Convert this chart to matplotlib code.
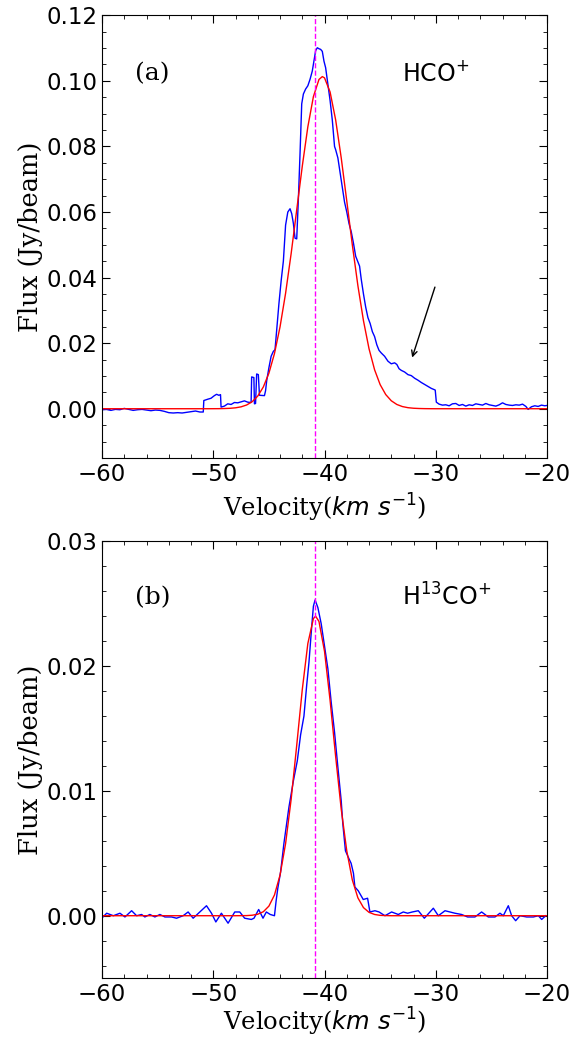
import matplotlib
matplotlib.use('Agg')
import matplotlib.pyplot as plt
from matplotlib.ticker import AutoMinorLocator

# panel (a): HCO+ spectrum (blue) and gaussian fit (red)
vel_a = [-60.0, -59.6, -59.2, -58.8, -58.4, -58.0, -57.6, -57.2, -56.8, -56.4, -56.0, -55.6, -55.2, -54.8,
         -54.4, -54.0, -53.6, -53.2, -52.8, -52.4, -52.0, -51.6, -51.2, -50.9, -50.85, -50.5, -50.2, -49.9,
         -49.7, -49.5, -49.35, -49.3, -49.0, -48.7, -48.4, -48.1, -47.8, -47.5, -47.2, -46.9, -46.6, -46.55,
         -46.35, -46.3, -46.2, -46.1, -45.95, -45.85, -45.4, -45.3, -45.2, -45.0, -44.8, -44.6, -44.45,
         -44.3, -44.1, -43.9, -43.7, -43.5, -43.3, -43.1, -42.95, -42.8, -42.65, -42.5, -42.35, -42.2,
         -42.05, -41.9, -41.7, -41.5, -41.3, -41.1, -40.95, -40.8, -40.65, -40.5, -40.35, -40.2, -40.05,
         -39.9, -39.7, -39.5, -39.3, -39.1, -39.0, -38.8, -38.6, -38.4, -38.2, -38.0, -37.8, -37.6, -37.4,
         -37.2, -37.0, -36.85, -36.7, -36.5, -36.3, -36.1, -35.9, -35.7, -35.5, -35.3, -35.1, -34.9, -34.6,
         -34.3, -34.0, -33.7, -33.5, -33.3, -33.1, -32.8, -32.5, -32.2, -31.9, -31.6, -31.3, -31.0, -30.7,
         -30.4, -30.05, -29.95, -29.7, -29.4, -29.1, -28.8, -28.5, -28.2, -27.9, -27.6, -27.3, -27.0, -26.7,
         -26.4, -26.1, -25.8, -25.5, -25.2, -24.9, -24.6, -24.3, -24.0, -23.7, -23.4, -23.1, -22.8, -22.5,
         -22.2, -21.9, -21.7, -21.4, -21.1, -20.8, -20.5, -20.2, -20.0]
flux_a = [-0.0003, -0.0002, -0.0005, -0.0002, -0.0003, 0.0001, -0.0002, -0.0005, -0.0003, -0.0002, -0.0004,
          -0.0006, -0.0004, -0.0005, -0.0008, -0.0012, -0.0013, -0.0012, -0.0013, -0.0011, -0.0009, -0.0007,
          -0.0010, -0.0010, 0.0025, 0.0029, 0.0032, 0.0040, 0.0044, 0.0041, 0.0043, 0.0005, 0.0008, 0.0015,
          0.0013, 0.0019, 0.0018, 0.0021, 0.0024, 0.0020, 0.0019, 0.0097, 0.0095, 0.0015, 0.0016, 0.0106,
          0.0104, 0.0041, 0.0040, 0.0055, 0.0085, 0.0125, 0.0160, 0.0175, 0.0180, 0.0240, 0.0320, 0.0390,
          0.0450, 0.0560, 0.0600, 0.0610, 0.0595, 0.0565, 0.0520, 0.0518, 0.0640, 0.0780, 0.0930, 0.0960,
          0.0975, 0.0985, 0.1005, 0.1030, 0.1060, 0.1092, 0.1101, 0.1098, 0.1096, 0.1090, 0.1060, 0.1040,
          0.0990, 0.0940, 0.0880, 0.0800, 0.0790, 0.0765, 0.0720, 0.0675, 0.0630, 0.0600, 0.0565, 0.0540,
          0.0505, 0.0465, 0.0448, 0.0435, 0.0395, 0.0350, 0.0310, 0.0278, 0.0260, 0.0235, 0.0220, 0.0195,
          0.0178, 0.0170, 0.0160, 0.0145, 0.0137, 0.0140, 0.0135, 0.0122, 0.0117, 0.0112, 0.0104, 0.0101,
          0.0093, 0.0087, 0.0080, 0.0074, 0.0068, 0.0062, 0.0057, 0.0020, 0.0014, 0.0011, 0.0012, 0.0009,
          0.0015, 0.0016, 0.0010, 0.0013, 0.0008, 0.0012, 0.0010, 0.0015, 0.0013, 0.0011, 0.0016, 0.0012,
          0.0010, 0.0008, 0.0012, 0.0018, 0.0013, 0.0011, 0.0010, 0.0012, 0.0011, 0.0014, 0.0007, -0.0002,
          0.0006, 0.0009, 0.0007, 0.0011, 0.0009, 0.0010]

fit_vel_a = [-60.0, -52.0, -51.0, -50.5, -50.0, -49.5, -49.0, -48.5, -48.0, -47.5, -47.0, -46.5, -46.0, -45.5,
             -45.0, -44.5, -44.0, -43.5, -43.0, -42.5, -42.0, -41.5, -41.0, -40.5, -40.2, -40.0, -39.5,
             -39.0, -38.5, -38.0, -37.5, -37.0, -36.5, -36.0, -35.5, -35.0, -34.5, -34.0, -33.5, -33.0,
             -32.5, -32.0, -31.5, -31.0, -30.5, -30.0, -29.0, -20.0]
fit_flux_a = [0.0, 0.0, 0.0, 0.0, 0.00001, 0.00002, 0.00006, 0.00013, 0.00028, 0.00058, 0.00114, 0.00215,
              0.00387, 0.00664, 0.01083, 0.01684, 0.02495, 0.03522, 0.04734, 0.06063, 0.07397, 0.08598,
              0.09520, 0.10042, 0.10130, 0.10091, 0.09660, 0.08809, 0.07653, 0.06334, 0.04994, 0.03751,
              0.02684, 0.01829, 0.01188, 0.00735, 0.00433, 0.00243, 0.00130, 0.00066, 0.00032, 0.00015,
              0.00007, 0.00003, 0.00001, 0.0, 0.0, 0.0]

# panel (b): H13CO+ spectrum and gaussian fit
vel_b = [-60.03, -59.58, -58.98, -58.39, -57.94, -57.34, -56.89, -56.44, -56.15, -55.7, -55.25, -54.8,
         -54.35, -53.75, -53.3, -52.71, -52.26, -51.81, -51.21, -50.61, -50.16, -49.77, -49.27, -48.67,
         -48.07, -47.62, -47.18, -46.58, -46.34, -45.92, -45.53, -45.23, -44.88, -44.5, -44.35, -44.2,
         -43.95, -43.65, -43.2, -42.8, -42.45, -42.15, -41.85, -41.6, -41.4, -41.15, -41.0, -40.85, -40.6,
         -40.3, -40.0, -39.7, -39.4, -39.1, -38.8, -38.5, -38.36, -38.12, -37.82, -37.61, -37.4, -37.27,
         -36.97, -36.52, -36.13, -35.92, -35.47, -35.1, -34.57, -33.97, -33.37, -32.92, -32.53, -32.11,
         -31.57, -31.03, -30.22, -29.77, -29.17, -28.28, -27.68, -27.14, -26.48, -25.88, -25.28, -24.68,
         -24.23, -23.93, -23.48, -23.18, -22.82, -22.43, -21.83, -21.23, -20.78, -20.48, -20.12]
flux_b = [-0.0002, 0.0002, 0.0, 0.0002, -0.0001, 0.0004, 0.0, 0.0001, -0.0001, 0.0001, -0.0001, 0.0001,
          -0.0001, -0.0001, -0.0002, 0.0, 0.0003, -0.0002, 0.0003, 0.0008, 0.0002, -0.0005, 0.0002, -0.0006,
          0.0003, 0.0003, -0.0002, -0.0003, -0.0002, 0.0005, -0.0002, 0.0003, 0.0001, 0.0, 0.0012, 0.0022,
          0.0035, 0.0058, 0.0087, 0.0108, 0.0124, 0.0145, 0.0160, 0.0185, 0.0203, 0.0232, 0.0248, 0.0253,
          0.0247, 0.0234, 0.0216, 0.0198, 0.0171, 0.0147, 0.0119, 0.0092, 0.0074, 0.0052, 0.0046, 0.0042,
          0.0034, 0.0023, 0.0020, 0.0013, 0.0014, 0.0003, 0.0004, 0.0003, 0.0, 0.0003, 0.0001, 0.0003, 0.0002,
          0.0003, 0.0004, -0.0002, 0.0006, 0.0, 0.0004, 0.0002, 0.0001, -0.0001, -0.0001, 0.0003, -0.0001,
          -0.0001, 0.0002, 0.0, 0.0008, 0.0, -0.0004, 0.0, -0.0001, -0.0001, 0.0, -0.0003, 0.0]

fit_vel_b = [-60.0, -48.0, -47.0, -46.5, -46.0, -45.5, -45.0, -44.5, -44.0, -43.5, -43.0, -42.5, -42.0,
             -41.5, -41.0, -40.8, -40.5, -40.0, -39.5, -39.0, -38.5, -38.0, -37.5, -37.0, -36.5, -36.0,
             -35.5, -35.0, -34.5, -34.0, -20.0]
fit_flux_b = [0.0, 0.0, 0.00001, 0.00004, 0.00012, 0.00032, 0.00077, 0.00166, 0.00325, 0.00578, 0.00933,
              0.01365, 0.01812, 0.02181, 0.02381, 0.02400, 0.02358, 0.02118, 0.01725, 0.01275, 0.00854,
              0.00519, 0.00286, 0.00143, 0.00065, 0.00027, 0.00010, 0.00003, 0.00001, 0.0, 0.0]

v_centre = -40.9
xticks = [-60, -50, -40, -30, -20]

fig = plt.figure(figsize=(5.84, 10.4), dpi=100)
ax1 = fig.add_axes([0.1747, 0.5597, 0.7620, 0.4256])
ax2 = fig.add_axes([0.1747, 0.0595, 0.7620, 0.4200])

panels = [
    (ax1, vel_a, flux_a, fit_vel_a, fit_flux_a, (-0.015, 0.12), [0.0, 0.02, 0.04, 0.06, 0.08, 0.10, 0.12],
     '(a)', 'HCO$^{+}$', 0.1021, 4),
    (ax2, vel_b, flux_b, fit_vel_b, fit_flux_b, (-0.005, 0.03), [0.0, 0.01, 0.02, 0.03],
     '(b)', 'H$^{13}$CO$^{+}$', 0.0255, 0),
]

for ax, v, f, fv, ff, ylim, yticks, tag, mol, ytxt, xpad in panels:
    ax.plot(v, f, color='blue', lw=1.0)
    ax.plot(fv, ff, color='red', lw=1.0)
    ax.axvline(v_centre, color='magenta', ls='--', lw=1.0)
    ax.set_xlim(-60, -20)
    ax.set_ylim(*ylim)
    ax.set_xticks(xticks)
    ax.set_yticks(yticks)
    ax.set_yticklabels(['%.2f' % t for t in yticks])
    ax.xaxis.set_minor_locator(AutoMinorLocator())
    ax.yaxis.set_minor_locator(AutoMinorLocator())
    ax.tick_params(which='both', direction='in', top=True, right=True, labelsize=16.5)
    ax.tick_params(which='major', length=6)
    ax.tick_params(which='minor', length=3)
    ax.set_xlabel(r'Velocity($km\ s^{-1}$)', fontsize=17.5, family='serif', labelpad=xpad)
    ax.set_ylabel('Flux (Jy/beam)', fontsize=18.5, family='serif', labelpad=2)
    ax.text(-57.0, ytxt, tag, fontsize=18, family='serif', va='center', ha='left')
    ax.text(-33.0, ytxt, mol, fontsize=17, va='center', ha='left')

ax1.annotate('', xy=(-32.2, 0.0148), xytext=(-30.0, 0.0379),
             arrowprops=dict(arrowstyle='->', color='black', lw=1.0))

fig.savefig('out.png', dpi=100)
